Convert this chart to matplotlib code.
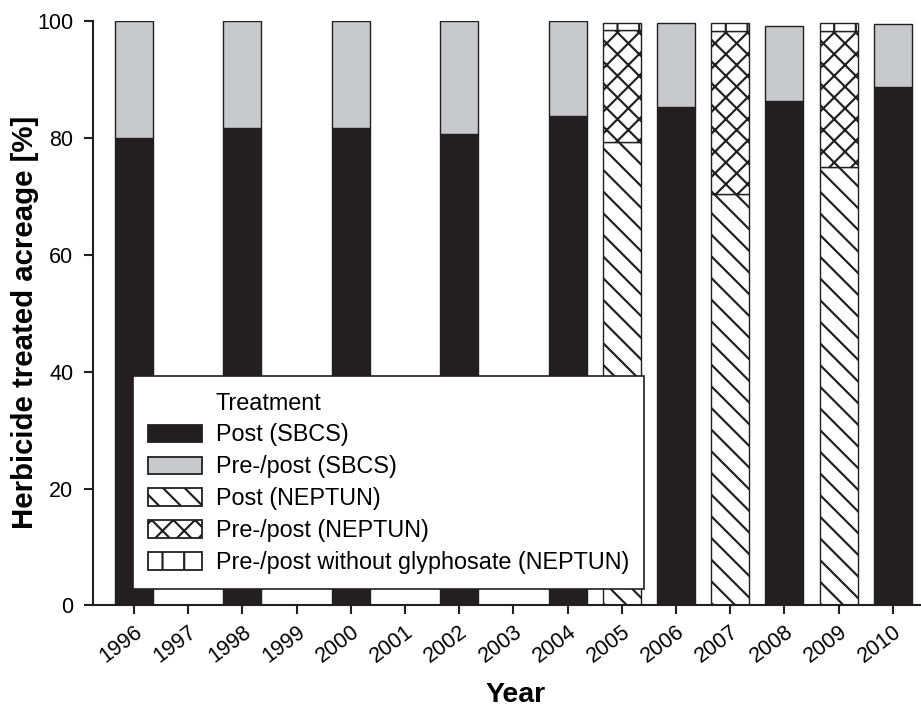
import matplotlib.pyplot as plt
from matplotlib.patches import Patch

plt.rcParams['font.family'] = ['Liberation Sans', 'DejaVu Sans']
plt.rcParams['hatch.linewidth'] = 1.2

# data
years = list(range(1996, 2011))

sbcs_years = [1996, 1998, 2000, 2002, 2004, 2006, 2008, 2010]
post_sbcs = [80.0, 81.7, 81.7, 80.8, 83.9, 85.4, 86.4, 88.7]
prepost_sbcs = [20.0, 18.3, 18.3, 19.2, 16.1, 14.3, 12.8, 10.8]

neptun_years = [2005, 2007, 2009]
post_neptun = [79.3, 70.4, 75.0]
prepost_neptun = [19.3, 27.9, 23.3]
prepost_noglyph = [1.1, 1.4, 1.4]

labels = ['Post (SBCS)', 'Pre-/post (SBCS)', 'Post (NEPTUN)',
          'Pre-/post (NEPTUN)', 'Pre-/post without glyphosate (NEPTUN)']

dark = '#231f20'
grey = '#c8c9cb'
w = 0.7

# drawn at dpi 130 so the hatches come out denser; sizes tuned at dpi 100
DPI = 130
k = 100 / DPI

fig = plt.figure(figsize=(921 / DPI, 707 / DPI), dpi=DPI)
ax = fig.add_axes([0.101, 0.1436, 0.899, 0.826])

lw = 1.0 * k
ax.bar(sbcs_years, post_sbcs, w, color=dark, edgecolor=dark, linewidth=lw)
ax.bar(sbcs_years, prepost_sbcs, w, bottom=post_sbcs, color=grey,
       edgecolor=dark, linewidth=lw)

b2 = [p + q for p, q in zip(post_neptun, prepost_neptun)]
ax.bar(neptun_years, post_neptun, w, color='white', edgecolor=dark,
       linewidth=lw, hatch='\\\\')
ax.bar(neptun_years, prepost_neptun, w, bottom=post_neptun, color='white',
       edgecolor=dark, linewidth=lw, hatch='xx')
ax.bar(neptun_years, prepost_noglyph, w, bottom=b2, color='white',
       edgecolor=dark, linewidth=lw, hatch='|')

ax.set_xlim(1995.244, 2010.52)
ax.set_ylim(0, 100)
ax.set_xticks(years)
ax.set_xticklabels([str(y) for y in years], rotation=37, ha='right',
                   rotation_mode='anchor', fontsize=15.5 * k)
ax.set_yticks([0, 20, 40, 60, 80, 100])
ax.tick_params(axis='y', labelsize=15.5 * k, length=6.3 * k, width=1.5 * k,
               pad=8 * k, direction='out', color=dark)
ax.tick_params(axis='x', length=6.3 * k, width=1.5 * k, pad=5 * k,
               direction='out', color=dark)
for s in ['top', 'right']:
    ax.spines[s].set_visible(False)
for s in ['left', 'bottom']:
    ax.spines[s].set_linewidth(1.5 * k)
    ax.spines[s].set_color(dark)

ax.set_xlabel('Year', fontsize=20.5 * k, fontweight='bold')
ax.xaxis.label.set_va('baseline')
ax.xaxis.set_label_coords(0.510, -0.166)
ax.set_ylabel('Herbicide treated acreage [%]', fontsize=21.2 * k,
              fontweight='bold')
ax.yaxis.set_label_coords(-0.0656, 0.4846)

handles = [
    Patch(facecolor='none', edgecolor='none'),
    Patch(facecolor=dark, edgecolor=dark),
    Patch(facecolor=grey, edgecolor=dark),
    Patch(facecolor='white', edgecolor=dark, hatch='\\\\'),
    Patch(facecolor='white', edgecolor=dark, hatch='xx'),
    Patch(facecolor='white', edgecolor=dark, hatch='|'),
]
leg = ax.legend(handles, ['Treatment'] + labels, loc='lower left',
                bbox_to_anchor=(0.048, 0.028), borderaxespad=0,
                fontsize=16.8 * k, handlelength=2.3, handleheight=0.77,
                handletextpad=0.6, labelspacing=0.38, borderpad=0.65,
                fancybox=False, framealpha=1)
leg.get_frame().set_edgecolor(dark)
leg.get_frame().set_linewidth(1.2 * k)

fig.savefig('out.png', dpi=DPI)
